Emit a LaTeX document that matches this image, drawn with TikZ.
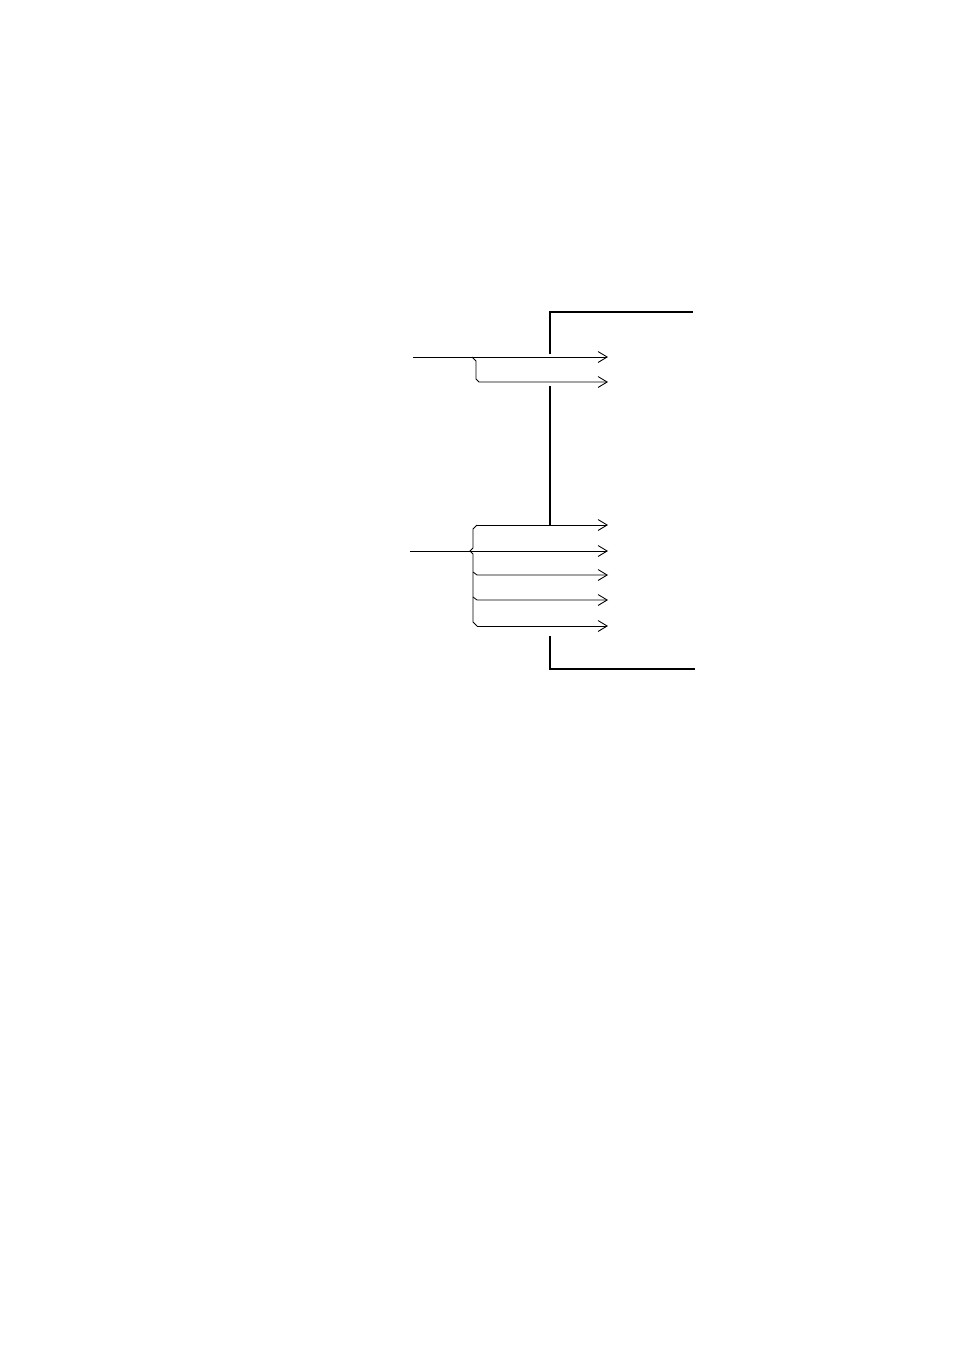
\documentclass[tikz,border=0pt]{standalone}
\usepackage{tikz}
\usetikzlibrary{arrows.meta,calc}

\begin{document}
\begin{tikzpicture}[x=0.22013mm, y=-0.22013mm,
        wall/.style={line width=1.3pt},
        feed/.style={line width=0.55pt},
        branch/.style={feed, -{Straight Barb[length=2mm,width=2.4mm]}}]
        \useasboundingbox (0,0) rectangle (954,1351);

        \coordinate (walltop) at (550,312);
        \coordinate (walltopend) at (693,312);
        \coordinate (wallgapA) at (550,354);
        \coordinate (wallgapB) at (550,386);
        \coordinate (wallmid) at (550,525);
        \coordinate (wallbot) at (550,636);
        \coordinate (wallbotcorner) at (550,669);
        \coordinate (wallbotend) at (695,669);

        \draw[wall] (wallgapA) -- (walltop) -- (walltopend);
        \draw[wall] (wallgapB) -- (wallmid);
        \draw[wall] (wallbot) -- (wallbotcorner) -- (wallbotend);

        \coordinate (inupper) at (413,357);
        \coordinate (forkupper) at (472,357);
        \coordinate (outone) at (608,357);
        \coordinate (outtwo) at (608,382);

        \draw[feed] (inupper) -- (forkupper);
        \draw[branch] (forkupper) -- (outone);
        \draw[branch] (forkupper) -- ++(4,4) -- (476,379) -- ++(3,3) -- (outtwo);

        \coordinate (inlower) at (410,551);
        \coordinate (bracetip) at (470,551);
        \coordinate (bracetop) at (477,525);
        \coordinate (bracebot) at (477,626);
        \coordinate (outthree) at (608,525);
        \coordinate (outfour) at (608,551);
        \coordinate (outfive) at (608,575);
        \coordinate (outsix) at (608,600);
        \coordinate (outseven) at (608,626);

        \draw[feed] (inlower) -- (bracetip);
        \draw[feed] (bracetop) -- ++(-4,4) -- (473,548) -- (bracetip) -- (473,554) -- (473,622) -- (bracebot);
        \draw[branch] (bracetop) -- (outthree);
        \draw[branch] (bracetip) -- (outfour);
        \draw[branch] (473,572) -- (477,575) -- (outfive);
        \draw[branch] (473,597) -- (477,600) -- (outsix);
        \draw[branch] (bracebot) -- (outseven);
\end{tikzpicture}
\end{document}
